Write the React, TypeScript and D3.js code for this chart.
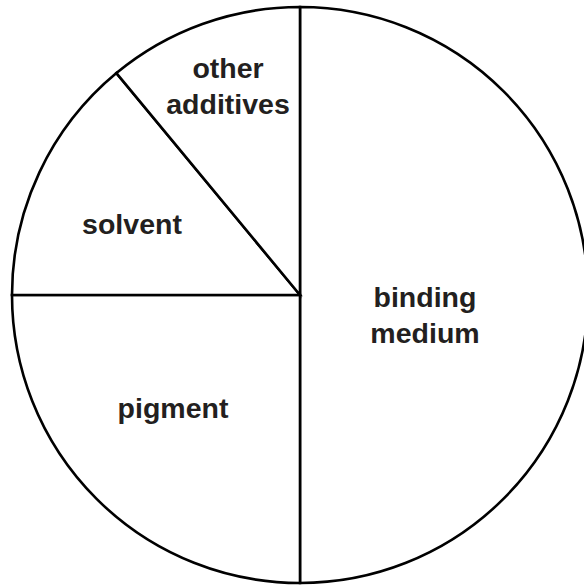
import { useEffect, useRef } from 'react'
import * as d3 from 'd3'

const categories = ['binding medium', 'pigment', 'solvent', 'other additives']
const shares = [50, 25, 14, 11]
const labelLines = [['binding', 'medium'], ['pigment'], ['solvent'], ['other', 'additives']]

// hand-tuned label spots (centre x, first baseline y) in svg px
const labelAt: [number, number][] = [
  [425, 307],
  [173, 418],
  [132, 234],
  [228, 78],
]

const W = 584
const H = 585

export default function App() {
  const ref = useRef<SVGSVGElement>(null)

  useEffect(() => {
    if (!ref.current) return
    const svg = d3.select(ref.current)
    svg.selectAll('*').remove()

    const cx = 300
    const cy = 295
    const r = 288

    const data = categories.map((name, i) => ({ name, value: shares[i], lines: labelLines[i], i }))
    const pie = d3.pie<any>().sort(null).value((d) => d.value)
    const arc = d3.arc<any>().innerRadius(0).outerRadius(r)

    const g = svg.append('g').attr('transform', `translate(${cx},${cy})`)

    g.selectAll('path')
      .data(pie(data))
      .join('path')
      .attr('d', arc)
      .attr('fill', '#fff')
      .attr('stroke', '#000')
      .attr('stroke-width', 2.6)
      .attr('stroke-linejoin', 'miter')

    data.forEach((d) => {
      const [x, y] = labelAt[d.i]
      const t = svg.append('text')
        .attr('x', x)
        .attr('y', y)
        .attr('text-anchor', 'middle')
        .attr('font-family', '"Liberation Sans", Arial, Helvetica, sans-serif')
        .attr('font-weight', 700)
        .attr('font-size', 28.5)
        .attr('fill', '#231f20')
      d.lines.forEach((line, k) => {
        t.append('tspan').attr('x', x).attr('dy', k === 0 ? 0 : 35.5).text(line)
      })
    })

    return () => { svg.selectAll('*').remove() }
  }, [])

  return (
    <svg
      ref={ref}
      width={W}
      height={H}
      style={{ position: 'absolute', left: 0, top: 0, background: '#fff' }}
    />
  )
}
